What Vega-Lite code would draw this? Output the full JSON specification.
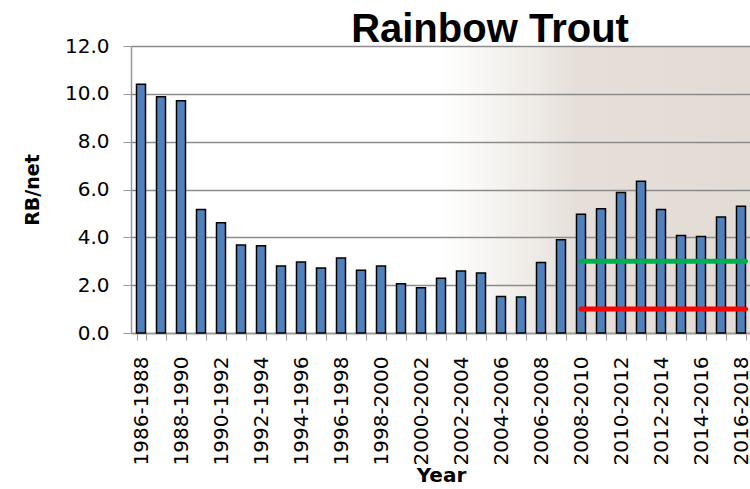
{
  "$schema": "https://vega.github.io/schema/vega-lite/v6.json",
  "autosize": "none",
  "width": 620,
  "height": 287,
  "padding": {"left": 131, "top": 46, "right": 0, "bottom": 156},
  "background": "white",
  "config": {
    "view": {
      "stroke": null,
      "fill": {
        "gradient": "linear",
        "x1": 0, "y1": 0, "x2": 1, "y2": 0,
        "stops": [
          {"offset": 0, "color": "#ffffff"},
          {"offset": 0.5, "color": "#ffffff"},
          {"offset": 0.62, "color": "#f2efeb"},
          {"offset": 0.72, "color": "#e6dfd9"},
          {"offset": 1, "color": "#e3dcd5"}
        ]
      }
    },
    "axis": {"labelFont": "DejaVu Sans", "titleFont": "DejaVu Sans", "labelColor": "#000000", "titleColor": "#000000"}
  },
  "title": {
    "text": "Rainbow Trout",
    "font": "Liberation Sans",
    "fontSize": 40,
    "fontWeight": "bold",
    "color": "#000000",
    "anchor": "middle",
    "dx": 49,
    "dy": 20,
    "offset": 6
  },
  "datasets": {
    "bars": [
      {"period": "1986-1988", "value": 10.40},
      {"period": "1987-1989", "value": 9.88},
      {"period": "1988-1990", "value": 9.71},
      {"period": "1989-1991", "value": 5.16},
      {"period": "1990-1992", "value": 4.61},
      {"period": "1991-1993", "value": 3.68},
      {"period": "1992-1994", "value": 3.65},
      {"period": "1993-1995", "value": 2.80},
      {"period": "1994-1996", "value": 2.97},
      {"period": "1995-1997", "value": 2.72},
      {"period": "1996-1998", "value": 3.14},
      {"period": "1997-1999", "value": 2.62},
      {"period": "1998-2000", "value": 2.80},
      {"period": "1999-2001", "value": 2.06},
      {"period": "2000-2002", "value": 1.89},
      {"period": "2001-2003", "value": 2.29},
      {"period": "2002-2004", "value": 2.59},
      {"period": "2003-2005", "value": 2.51},
      {"period": "2004-2006", "value": 1.53},
      {"period": "2005-2007", "value": 1.51},
      {"period": "2006-2008", "value": 2.95},
      {"period": "2007-2009", "value": 3.90},
      {"period": "2008-2010", "value": 4.97},
      {"period": "2009-2011", "value": 5.20},
      {"period": "2010-2012", "value": 5.87},
      {"period": "2011-2013", "value": 6.35},
      {"period": "2012-2014", "value": 5.16},
      {"period": "2013-2015", "value": 4.08},
      {"period": "2014-2016", "value": 4.04},
      {"period": "2015-2017", "value": 4.85},
      {"period": "2016-2018", "value": 5.30}
    ],
    "lines": [
      {"start": "2008-2010", "end": "2016-2018", "level": 3, "kind": "upper"},
      {"start": "2008-2010", "end": "2016-2018", "level": 1, "kind": "lower"}
    ]
  },
  "layer": [
    {
      "data": {"name": "bars"},
      "mark": {"type": "bar", "color": "#4f81bd", "stroke": "#000000", "strokeWidth": 1.5},
      "encoding": {
        "x": {
          "field": "period",
          "type": "nominal",
          "sort": null,
          "scale": {"paddingInner": 0.55, "paddingOuter": 0.275},
          "axis": {
            "title": "Year",
            "titleFontSize": 20,
            "titleFontWeight": "bold",
            "titlePadding": 0,
            "labelAngle": -90,
            "labelAlign": "right",
            "labelBaseline": "middle",
            "labelFontSize": 20,
            "labelPadding": 16,
            "labelExpr": "toNumber(substring(datum.label, 0, 4)) % 2 == 0 ? datum.label : ''",
            "labelOverlap": false,
            "tickBand": "extent",
            "tickSize": 7,
            "tickColor": "#999999",
            "domainColor": "#999999",
            "domainWidth": 1.5,
            "grid": false
          }
        },
        "y": {
          "field": "value",
          "type": "quantitative",
          "scale": {"domain": [0, 12], "nice": false},
          "axis": {
            "title": "RB/net",
            "titleFontSize": 19,
            "titleFontWeight": "bold",
            "titlePadding": 22,
            "values": [0, 2, 4, 6, 8, 10, 12],
            "format": ".1f",
            "labelFontSize": 20,
            "labelPadding": 14,
            "tickSize": 8,
            "tickColor": "#999999",
            "domainColor": "#999999",
            "domainWidth": 1.5,
            "gridColor": "#8c8c8c",
            "gridWidth": 1.5
          }
        }
      }
    },
    {
      "data": {"name": "lines"},
      "mark": {"type": "rule", "strokeWidth": 5, "strokeCap": "round"},
      "encoding": {
        "x": {"field": "start", "type": "nominal", "sort": null},
        "x2": {"field": "end", "bandPosition": 1},
        "y": {"field": "level", "type": "quantitative"},
        "color": {
          "field": "kind",
          "type": "nominal",
          "scale": {"domain": ["upper", "lower"], "range": ["#00b050", "#ff0000"]},
          "legend": null
        }
      }
    }
  ]
}
